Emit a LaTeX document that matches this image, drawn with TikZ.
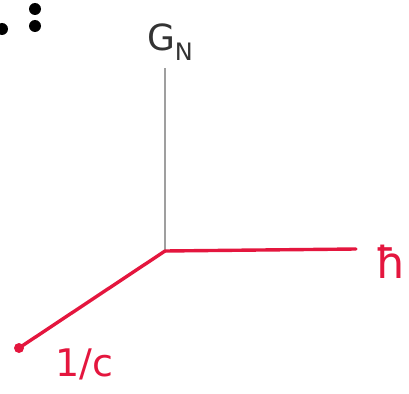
\documentclass[tikz,border=0pt]{standalone}
\usepackage{fontspec}
\setmainfont{DejaVu Sans}
\begin{document}
\begin{tikzpicture}[x=1pt,y=-1pt,
  redax/.style={draw=axred,line width=3.4pt,line cap=round},
  grayax/.style={draw=gray!75,line width=1.8pt},
  lbl/.style={inner sep=0pt}]
\definecolor{axred}{RGB}{228,22,62}
\useasboundingbox (0,0) rectangle (409,393);
\coordinate (o) at (165,251);
\coordinate (gtop) at (165,68);
\coordinate (hend) at (356,249);
\coordinate (cend) at (19,348);
\draw[grayax] (o) -- (gtop);
\draw[redax] (o) -- (hend);
\draw[redax] (o) -- (cend);
\fill[axred] (cend) circle (5pt);
\node[lbl,text=black!80] (gn) at (170,42) {\fontsize{36}{36}\selectfont G\raisebox{-10pt}{\fontsize{24}{24}\selectfont N}};
\node[lbl,text=axred] (hb) at (391,262) {\fontsize{44}{44}\selectfont ħ};
\node[lbl,text=axred] (c) at (84,364) {\fontsize{38}{38}\selectfont 1/c};
\fill[black] (35,9) circle (6pt);
\fill[black] (35,26) circle (6pt);
\fill[black] (2,29) circle (6pt);
\end{tikzpicture}
\end{document}
